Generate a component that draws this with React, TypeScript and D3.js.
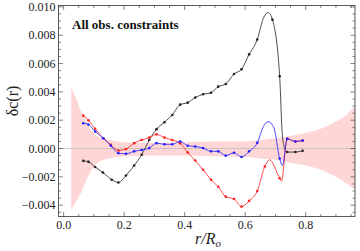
import * as d3 from 'd3'

// [r, value, marker]
const blackSeries: [number, number, number][] = [
  [0.065, -0.00087, 1], [0.082, -0.00094, 1], [0.104, -0.0013, 1], [0.13, -0.0017, 1],
  [0.159, -0.0022, 1], [0.181, -0.0024, 1], [0.206, -0.0019, 1], [0.233, -0.0012, 1],
  [0.258, -0.00044, 1], [0.283, 0.0006, 1], [0.307, 0.00137, 1], [0.333, 0.00186, 1],
  [0.359, 0.00237, 1], [0.385, 0.0031, 1], [0.41, 0.00324, 1], [0.435, 0.0036, 1],
  [0.461, 0.00383, 1], [0.487, 0.00394, 1], [0.511, 0.00437, 1], [0.536, 0.00456, 1],
  [0.563, 0.00526, 1], [0.588, 0.0056, 1], [0.613, 0.00665, 1], [0.64, 0.0077, 1],
  [0.66, 0.0092, 0], [0.676, 0.0096, 0], [0.69, 0.0091, 1], [0.714, 0.0051, 1],
  [0.722, 0.0012, 0], [0.728, 0.0002, 0], [0.739, -0.00025, 1], [0.766, -0.00025, 1],
  [0.79, -0.00016, 1],
]

const redSeries: [number, number, number][] = [
  [0.065, 0.00232, 1], [0.082, 0.002, 1], [0.104, 0.00139, 1], [0.131, 0.00073, 1],
  [0.156, 0.00026, 1], [0.181, -0.00014, 1], [0.206, -0.00004, 1], [0.233, 0.00038, 1],
  [0.258, 0.0006, 1], [0.283, 0.00077, 1], [0.307, 0.001, 1], [0.333, 0.00077, 1],
  [0.359, 0.0006, 1], [0.385, 0.00038, 1], [0.41, -0.00028, 1], [0.435, -0.00085, 1],
  [0.461, -0.0015, 1], [0.487, -0.0022, 1], [0.511, -0.0027, 1], [0.536, -0.0034, 1],
  [0.563, -0.00356, 1], [0.588, -0.0041, 1], [0.613, -0.0037, 1], [0.64, -0.003, 1],
  [0.665, -0.00127, 1], [0.681, -0.0008, 0], [0.714, -0.0021, 1], [0.72, -0.0023, 0],
  [0.739, 0.00068, 1], [0.766, 0.0005, 1], [0.79, 0.00056, 1],
]

const blueSeries: [number, number, number][] = [
  [0.065, 0.00179, 1], [0.082, 0.0017, 1], [0.104, 0.0012, 1], [0.131, 0.00073, 1],
  [0.156, 0.0002, 1], [0.181, -0.00033, 1], [0.206, -0.00037, 1], [0.233, -0.0002, 1],
  [0.258, -0.0001, 1], [0.283, 0.00003, 1], [0.307, 0.00038, 1], [0.333, 0.0003, 1],
  [0.359, 0.0003, 1], [0.385, 0.0005, 1], [0.41, 0.0002, 1], [0.435, 0.00014, 1],
  [0.461, 0.00003, 1], [0.487, -0.0002, 1], [0.511, -0.0002, 1], [0.536, -0.0005, 1],
  [0.563, -0.0003, 1], [0.588, -0.0006, 1], [0.613, -0.0002, 1], [0.64, 0.0004, 1],
  [0.66, 0.00155, 0], [0.676, 0.0019, 0], [0.695, 0.00146, 0], [0.714, -0.0007, 1],
  [0.723, -0.0012, 0], [0.739, 0.00068, 1], [0.766, 0.0005, 1], [0.79, 0.00056, 1],
]

// error band
const bandR = [0.025, 0.04, 0.06, 0.08, 0.1, 0.12, 0.15, 0.2, 0.3, 0.4, 0.5, 0.6, 0.65, 0.7, 0.75, 0.8, 0.85, 0.9, 0.93, 0.963]
const bandHi = [0.0043, 0.0036, 0.0025, 0.0017, 0.0011, 0.0008, 0.0006, 0.00045, 0.0004, 0.00045, 0.0005, 0.0005, 0.0006, 0.0007, 0.0009, 0.0011, 0.0014, 0.0019, 0.0023, 0.003]
const bandLo = [-0.0043, -0.0038, -0.003, -0.002, -0.0013, -0.0009, -0.0007, -0.00055, -0.0005, -0.0005, -0.00055, -0.0006, -0.0007, -0.0008, -0.001, -0.0012, -0.0015, -0.002, -0.0024, -0.0029]

const xTicks = [0, 0.2, 0.4, 0.6, 0.8]
const yTicks = [-0.004, -0.002, 0, 0.002, 0.004, 0.006, 0.008, 0.01]

const W = 360
const H = 251
const margin = { top: 5.5, right: 5, bottom: 34.5, left: 58.5 }

export default function App() {
  const x = d3.scaleLinear().domain([-0.017, 0.963]).range([margin.left, W - margin.right])
  const y = d3.scaleLinear().domain([-0.0048, 0.0101]).range([H - margin.bottom, margin.top])
  const [x0, x1] = x.range()
  const [y0, y1] = y.range()

  const band = d3.area<number>()
    .x((_, i) => x(bandR[i]))
    .y0((_, i) => y(bandLo[i]))
    .y1((d) => y(d))
    .curve(d3.curveMonotoneX)

  const line = d3.line<[number, number, number]>()
    .x((d) => x(d[0]))
    .y((d) => y(d[1]))
    .curve(d3.curveMonotoneX)

  const xMinor = d3.range(0, 0.97, 0.05)
  const yMinor = d3.range(-0.0045, 0.0101, 0.0005)

  const series: [[number, number, number][], string][] = [
    [blackSeries, '#222'],
    [redSeries, '#ff2020'],
    [blueSeries, '#2020ff'],
  ]

  return (
    <svg width={W} height={H} style={{ position: 'fixed', left: 0, top: 0, background: '#fff' }}
      fontFamily="'Liberation Serif', 'DejaVu Serif', serif">
      <defs>
        <clipPath id="plot">
          <rect x={x0} y={y1} width={x1 - x0} height={y0 - y1} />
        </clipPath>
      </defs>
      <g clipPath="url(#plot)">
        <path d={band(bandHi) ?? ''} fill="#ffd6d6" />
        <line x1={x0} x2={x1} y1={y(0)} y2={y(0)} stroke="#bbb" strokeOpacity={0.8} strokeWidth={1} />
        {series.map(([data, color], k) => (
          <g key={k}>
            <path d={line(data) ?? ''} fill="none" stroke={color} strokeWidth={0.8} />
            {data.filter((d) => d[2]).map((d, i) => (
              <circle key={i} cx={x(d[0])} cy={y(d[1])} r={1.3} fill={color} />
            ))}
          </g>
        ))}
      </g>
      <rect x={x0} y={y1} width={x1 - x0} height={y0 - y1} fill="none" stroke="#333" strokeWidth={0.8} />
      {xMinor.map((v, i) => {
        const major = Math.abs(Math.round(v * 5) - v * 5) < 1e-6
        const len = major ? 4.5 : 2.5
        return (
          <g key={'xm' + i} stroke="#333" strokeWidth={0.6}>
            <line x1={x(v)} x2={x(v)} y1={y0} y2={y0 - len} />
            <line x1={x(v)} x2={x(v)} y1={y1} y2={y1 + len} />
          </g>
        )
      })}
      {yMinor.map((v, i) => {
        const major = Math.abs(Math.round(v / 0.002) - v / 0.002) < 1e-6
        const len = major ? 4.5 : 2.5
        return (
          <g key={'ym' + i} stroke="#333" strokeWidth={0.6}>
            <line x1={x0} x2={x0 + len} y1={y(v)} y2={y(v)} />
            <line x1={x1} x2={x1 - len} y1={y(v)} y2={y(v)} />
          </g>
        )
      })}
      {xTicks.map((v) => (
        <text key={'xt' + v} x={x(v)} y={y0 + 12.5} fontSize={12} textAnchor="middle" fill="#222">
          {v.toFixed(1)}
        </text>
      ))}
      {yTicks.map((v) => (
        <text key={'yt' + v} x={x0 - 3} y={y(v) + 4} fontSize={12} textAnchor="end" fill="#222">
          {(v < 0 ? '\u2212' : '') + Math.abs(v).toFixed(3)}
        </text>
      ))}
      <text x={72} y={29} fontSize={13} fontWeight="bold" fill="#111">All obs. constraints</text>
      <text transform={`translate(18,${(y0 + y1) / 2 - 10}) rotate(-90)`} fontSize={16} textAnchor="middle" fill="#222">
        δc(r)
      </text>
      <text x={208} y={244} fontSize={16} fontStyle="italic" textAnchor="middle" fill="#222">
        r/R<tspan fontSize={11} dy={3}>o</tspan>
      </text>
    </svg>
  )
}
